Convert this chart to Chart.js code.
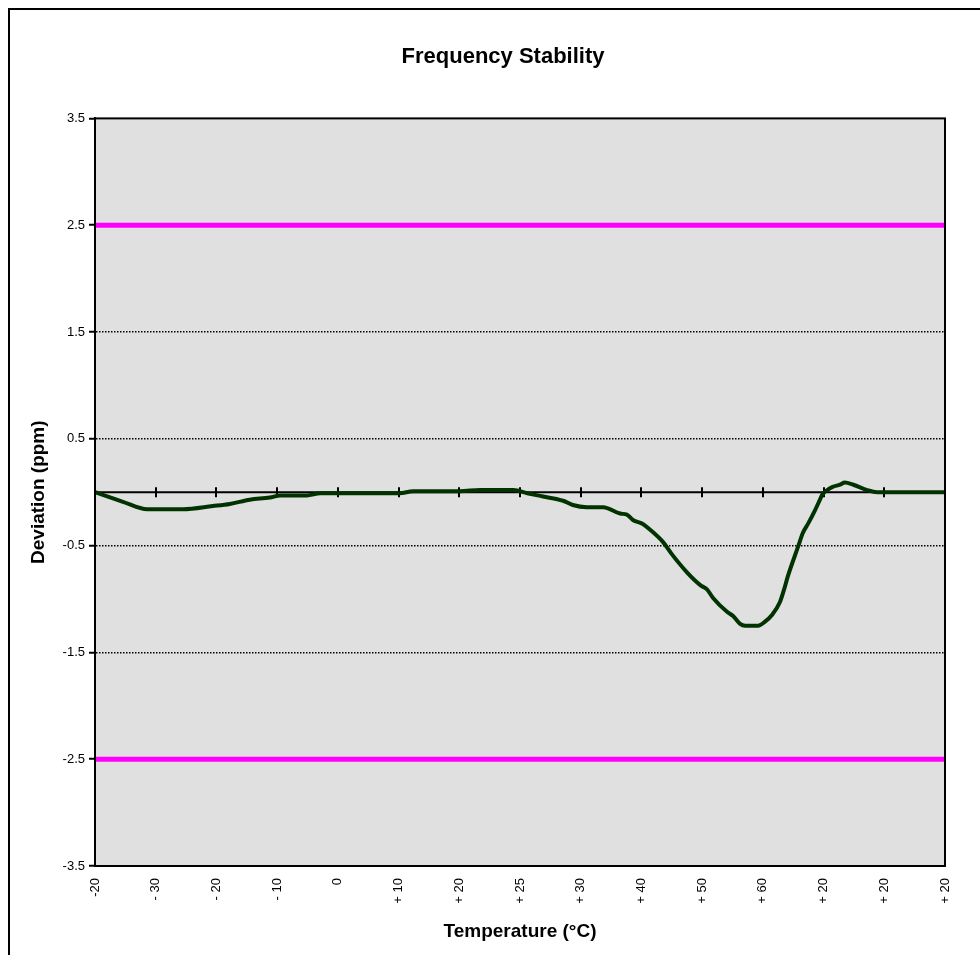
<!DOCTYPE html>
<html>
<head>
<meta charset="utf-8">
<script src="https://cdn.jsdelivr.net/npm/chart.js@4.4.1/dist/chart.umd.min.js"></script>
<style>
  html, body { margin: 0; padding: 0; background: #ffffff; overflow: hidden; }
  #frame { position: absolute; left: 8px; top: 8px; width: 1100px; height: 1100px; border: 2px solid #000; box-sizing: border-box; }
  #c { position: absolute; left: 0; top: 0; }
</style>
</head>
<body>
<div id="frame"></div>
<canvas id="c" width="980" height="955"></canvas>
<script>
// ---- data ----
const tempLabels = ['-20', '- 30', '- 20', '- 10', '0', '+ 10', '+ 20', '+ 25', '+ 30', '+ 40', '+ 50', '+ 60', '+ 20', '+ 20', '+ 20'];
const xPos = [0.00, 0.46, 0.86, 1.45, 1.94, 2.22, 2.55, 2.88, 3.05, 3.49, 3.71, 5.02, 5.24, 6.01, 6.34, 6.89, 7.12, 7.38, 7.71, 7.87, 8.10, 8.37, 8.65, 8.76, 8.86, 9.03, 9.14, 9.36, 9.50, 9.75, 9.97, 10.08, 10.18, 10.41, 10.51, 10.62, 10.71, 10.92, 11.04, 11.15, 11.28, 11.35, 11.41, 11.58, 11.66, 11.75, 11.85, 11.94, 11.98, 12.06, 12.15, 12.27, 12.35, 12.49, 12.72, 12.88, 14.00];
const devPpm = [0.00, -0.09, -0.16, -0.16, -0.13, -0.11, -0.07, -0.05, -0.03, -0.03, -0.01, -0.01, 0.01, 0.01, 0.02, 0.02, -0.01, -0.04, -0.08, -0.12, -0.14, -0.14, -0.20, -0.21, -0.26, -0.30, -0.35, -0.47, -0.58, -0.75, -0.87, -0.91, -0.99, -1.12, -1.16, -1.23, -1.25, -1.25, -1.21, -1.15, -1.03, -0.91, -0.79, -0.51, -0.38, -0.29, -0.18, -0.07, -0.02, 0.02, 0.05, 0.07, 0.09, 0.07, 0.02, 0.00, 0.00];
const upperLimit = 2.5;
const lowerLimit = -2.5;
const yTickValues = [-3.5, -2.5, -1.5, -0.5, 0.5, 1.5, 2.5, 3.5];

const FONT = "'Liberation Sans', Arial, sans-serif";

const curve = xPos.map((x, i) => ({ x: x, y: devPpm[i] }));
const lastIdx = tempLabels.length - 1;
const upper = [{ x: 0, y: upperLimit }, { x: lastIdx, y: upperLimit }];
const lower = [{ x: 0, y: lowerLimit }, { x: lastIdx, y: lowerLimit }];

const plotDecor = {
  id: 'plotDecor',
  beforeDraw(chart) {
    const a = chart.chartArea, ctx = chart.ctx;
    ctx.save();
    ctx.fillStyle = '#E0E0E0';
    ctx.fillRect(a.left, a.top, a.right - a.left, a.bottom - a.top);
    ctx.restore();
  },
  beforeDatasetsDraw(chart) {
    const a = chart.chartArea, ctx = chart.ctx;
    const xs = chart.scales.x, ys = chart.scales.y;
    const y0 = ys.getPixelForValue(0);
    ctx.save();
    ctx.strokeStyle = '#000';
    ctx.lineWidth = 2;
    ctx.beginPath();
    ctx.moveTo(a.left, y0);
    ctx.lineTo(a.right, y0);
    ctx.stroke();
    xs.ticks.forEach(t => {
      const px = Math.round(xs.getPixelForValue(t.value));
      ctx.beginPath();
      ctx.moveTo(px, y0 - 5);
      ctx.lineTo(px, y0 + 5);
      ctx.stroke();
    });
    ctx.restore();
  },
  afterDatasetsDraw(chart) {
    const a = chart.chartArea, ctx = chart.ctx;
    ctx.save();
    ctx.strokeStyle = '#000';
    ctx.lineWidth = 2;
    ctx.strokeRect(a.left, a.top, a.right - a.left, a.bottom - a.top);
    ctx.restore();
  }
};

new Chart(document.getElementById('c'), {
  type: 'line',
  data: {
    datasets: [
      { label: 'Upper limit', data: upper, borderColor: '#FF00FF', borderWidth: 5, pointRadius: 0, fill: false },
      { label: 'Lower limit', data: lower, borderColor: '#FF00FF', borderWidth: 5, pointRadius: 0, fill: false },
      { label: 'Deviation', data: curve, borderColor: '#003300', borderWidth: 4, pointRadius: 0, fill: false, cubicInterpolationMode: 'monotone', borderJoinStyle: 'round', borderCapStyle: 'round' }
    ]
  },
  options: {
    responsive: false,
    animation: false,
    devicePixelRatio: 1,
    layout: { padding: { left: 26, right: 0, top: 0, bottom: 0 } },
    plugins: {
      legend: { display: false },
      tooltip: { enabled: false },
      title: {
        display: true,
        text: 'Frequency Stability',
        color: '#000',
        font: { family: FONT, size: 22, weight: 'bold' },
        padding: { top: 44, bottom: 48 }
      }
    },
    scales: {
      x: {
        type: 'linear',
        min: 0,
        max: lastIdx,
        afterFit(s) { s.height = 89; },
        grid: { display: false, drawTicks: false },
        border: { display: false },
        ticks: {
          stepSize: 1,
          autoSkip: false,
          maxRotation: 90,
          minRotation: 90,
          padding: 12,
          color: '#000',
          font: { family: FONT, size: 13 },
          callback: (v) => tempLabels[v]
        },
        title: {
          display: true,
          text: 'Temperature (°C)',
          color: '#000',
          font: { family: FONT, size: 19, weight: 'bold' },
          padding: { top: 0, bottom: 12 }
        }
      },
      y: {
        type: 'linear',
        min: -3.5,
        max: 3.5,
        afterFit(s) { s.width = 69; },
        afterBuildTicks(s) { s.ticks = yTickValues.map(v => ({ value: v })); },
        grid: {
          color: (c) => {
            const v = c.tick ? Math.abs(c.tick.value) : 0;
            return (Math.abs(v - 0.5) < 1e-6 || Math.abs(v - 1.5) < 1e-6) ? '#000' : 'rgba(0,0,0,0)';
          },
          lineWidth: 1.5,
          drawTicks: true,
          tickLength: 6,
          tickColor: '#000',
          tickWidth: 2
        },
        border: { display: true, color: '#000', width: 2, dash: [1.5, 1.5] },
        ticks: {
          padding: 4,
          color: '#000',
          font: { family: FONT, size: 13 },
          callback: (v) => String(v)
        },
        title: {
          display: true,
          text: 'Deviation (ppm)',
          color: '#000',
          font: { family: FONT, size: 19, weight: 'bold' },
          padding: { top: 1, bottom: 0 }
        }
      },
      yR: {
        type: 'linear',
        position: 'right',
        display: true,
        afterFit(s) { s.width = 35; },
        grid: { display: false, drawTicks: false },
        border: { display: false },
        ticks: { display: false }
      }
    }
  },
  plugins: [plotDecor]
});
</script>
</body>
</html>
